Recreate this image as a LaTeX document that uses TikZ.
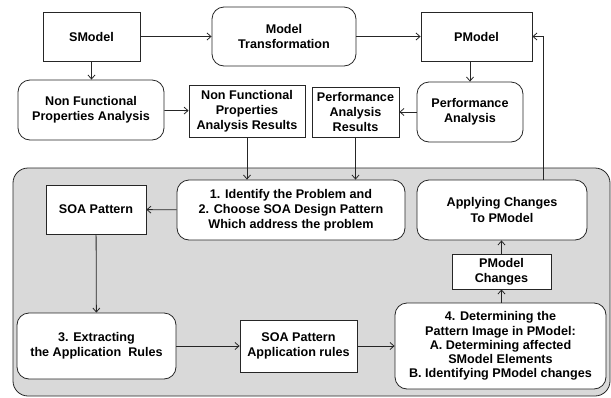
\documentclass[tikz,border=0pt]{standalone}
\usepackage{fontspec}
\setmainfont{Liberation Sans}
\usetikzlibrary{arrows.meta}
\begin{document}
\begin{tikzpicture}[x=1pt, y=-1pt, >={Straight Barb[length=4pt,width=7pt]},
    every node/.style={font=\bfseries\fontsize{12.6}{15.2}\selectfont, align=center, inner sep=1pt},
    sqbox/.style={draw=black!85, fill=white, line width=0.8pt},
    rbox/.style={draw=black!85, fill=white, line width=0.8pt, rounded corners=12pt},
    link/.style={draw=black!85, line width=0.8pt, ->}]
      \useasboundingbox (0,0) rectangle (611,397);
      % grey panel
      \draw[draw=black!85, fill=black!15, line width=0.8pt, rounded corners=15pt] (13,168) rectangle (610,396);
      % upper row
      \node[sqbox, minimum width=97pt, minimum height=49pt] (SM) at (91.5,36.5) {SModel};
      \node[rbox, minimum width=144pt, minimum height=59pt] (MT) at (284,36.5) {Model\\Transformation};
      \node[sqbox, minimum width=111pt, minimum height=49pt] (PM) at (476.5,36.5) {PModel};
      \node[rbox, minimum width=146pt, minimum height=60pt] (NFPA) at (91,110) {Non Functional\\Properties Analysis};
      \node[sqbox, minimum width=116pt, minimum height=52pt] (NFPR) at (247,111) {Non Functional\\Properties\\Analysis Results};
      \node[sqbox, minimum width=87pt, minimum height=50pt] (PAR) at (355.5,112) {Performance\\Analysis\\Results};
      \node[rbox, minimum width=106pt, minimum height=60pt] (PA) at (470,112) {Performance\\Analysis};
      % inside the panel
      \node[rbox, minimum width=228pt, minimum height=60pt] (ID) at (291,210) {1. Identify the Problem and\\2. Choose SOA Design Pattern\\Which address the problem};
      \node[rbox, minimum width=170pt, minimum height=60pt] (AC) at (502,210) {Applying Changes\\To PModel};
      \node[sqbox, minimum width=100pt, minimum height=49pt] (SP) at (96,209.5) {SOA Pattern};
      \node[rbox, minimum width=159pt, minimum height=66pt] (EX) at (96.5,346) {3. Extracting\\the Application\ \ Rules};
      \node[sqbox, minimum width=117pt, minimum height=52pt] (SR) at (298.5,346) {SOA Pattern\\Application rules};
      \node[rbox, minimum width=211pt, minimum height=86pt, font=\bfseries\fontsize{12.6}{14.2}\selectfont] (DT) at (500.5,346) {4. Determining the\\Pattern Image in PModel:\\A. Determining affected\\SModel Elements\\B. Identifying PModel changes};
      \node[sqbox, minimum width=99pt, minimum height=35pt] (PC) at (501.5,271.5) {PModel\\Changes};
      \coordinate (AT) at (543,180);
      % connectors
      \draw[link] (SM) -- (MT);
      \draw[link] (MT) -- (PM);
      \draw[link] (SM) -- (SM |- NFPA.north);
      \draw[link] (PM.south -| PA.north) -- (PA.north);
      \draw[link] (NFPA) -- (NFPR);
      \draw[link] (PA) -- (PAR);
      \draw[link] (NFPR) -- (NFPR |- ID.north);
      \draw[link] (PAR) -- (PAR |- ID.north);
      \draw[link] (ID) -- (SP);
      \draw[link] (SP) -- (EX);
      \draw[link] (EX) -- (SR);
      \draw[link] (SR) -- (DT.west |- SR);
      \draw[link] (DT.north -| PC) -- (PC);
      \draw[link] (PC) -- (AC.south -| PC);
      \draw[link] (AT) |- (PM.east);
\end{tikzpicture}
\end{document}
